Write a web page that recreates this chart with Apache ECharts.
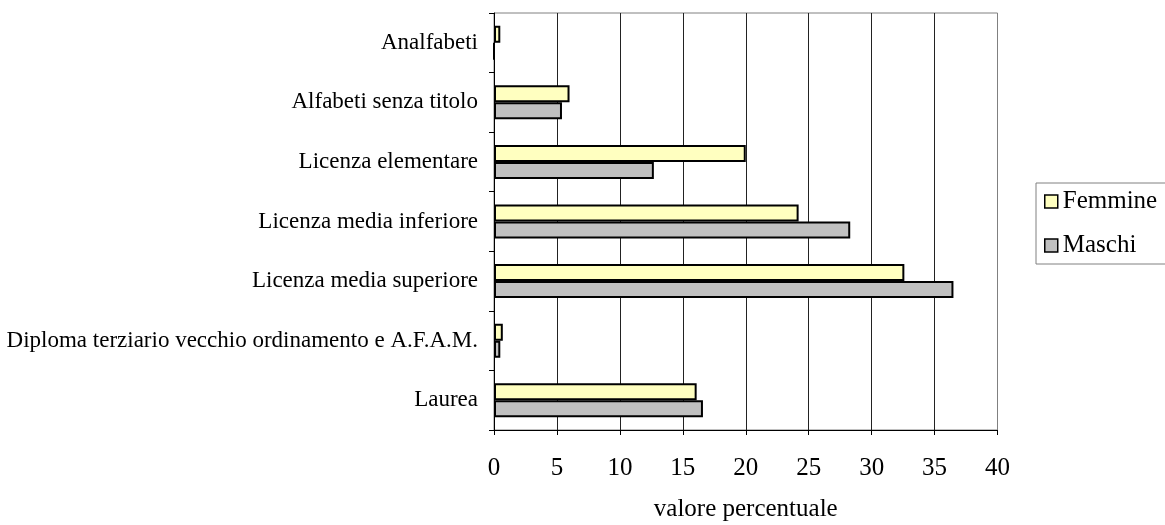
<!DOCTYPE html>
<html>
<head>
<meta charset="utf-8">
<script src="https://cdn.jsdelivr.net/npm/echarts@6/dist/echarts.min.js"></script>
<style>
html,body{margin:0;padding:0;background:#fff;}
#chart{width:1165px;height:525px;}
</style>
</head>
<body>
<div id="chart"></div>
<script>
const categories = [
  'Analfabeti',
  'Alfabeti senza titolo',
  'Licenza elementare',
  'Licenza media inferiore',
  'Licenza media superiore',
  'Diploma terziario vecchio ordinamento e A.F.A.M.',
  'Laurea'
];
const femmine = [0.5, 6.0, 20.0, 24.2, 32.6, 0.7, 16.1];
const maschi  = [0.0, 5.4, 12.7, 28.3, 36.5, 0.5, 16.6];
const seriesNames = ['Femmine', 'Maschi'];
const axisTitle = 'valore percentuale';

const FONT = "'Liberation Serif', 'Times New Roman', serif";
const chart = echarts.init(document.getElementById('chart'), null, {renderer: 'canvas'});
const gridColors = ['#222','#222','#222','#222','#222','#222','#222','#222','#808080'];

chart.setOption({
  animation: false,
  backgroundColor: '#fff',
  textStyle: {fontFamily: FONT, color: '#000'},
  grid: {left: 494, right: 167.5, top: 13, bottom: 95, show: true, borderColor: '#808080', borderWidth: 1,
         containLabel: false, outerBoundsMode: 'none'},
  legend: {
    orient: 'vertical',
    left: 1036, top: 183,
    data: seriesNames,
    backgroundColor: '#fff',
    borderColor: '#808080', borderWidth: 1,
    padding: [5, 12, 5, 8],
    itemGap: 17,
    itemWidth: 13, itemHeight: 13,
    icon: 'rect',
    itemStyle: {borderColor: '#000', borderWidth: 1.5},
    textStyle: {fontFamily: FONT, fontSize: 25, color: '#000', lineHeight: 27}
  },
  xAxis: {
    type: 'value', min: 0, max: 40, interval: 5,
    name: axisTitle, nameLocation: 'middle', nameGap: 67,
    nameTextStyle: {fontFamily: FONT, fontSize: 25, color: '#000'},
    axisLine: {show: true, lineStyle: {color: '#000', width: 1}},
    axisTick: {show: true, length: 5, lineStyle: {color: '#000'}},
    axisLabel: {fontFamily: FONT, fontSize: 25, color: '#000', margin: 26},
    splitLine: {show: true, lineStyle: {color: gridColors, width: 1}}
  },
  yAxis: {
    type: 'category', inverse: true, data: categories,
    axisLine: {show: true, lineStyle: {color: '#000', width: 1}},
    axisTick: {show: true, length: 5, lineStyle: {color: '#000'}},
    axisLabel: {fontFamily: FONT, fontSize: 23, color: '#000', margin: 16},
    splitLine: {show: false}
  },
  series: [
    {name: seriesNames[0], type: 'bar', data: femmine, barWidth: 17, barGap: '0%',
     itemStyle: {color: '#FFFFC0', borderColor: '#000', borderWidth: 2}},
    {name: seriesNames[1], type: 'bar', data: maschi, barWidth: 17, barGap: '0%',
     itemStyle: {color: '#C0C0C0', borderColor: '#000', borderWidth: 2}}
  ]
});
</script>
</body>
</html>
